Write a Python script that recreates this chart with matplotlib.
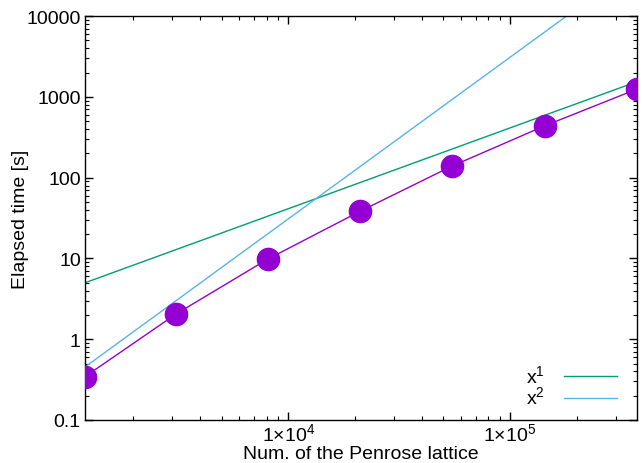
import numpy as np
import matplotlib.pyplot as plt
from matplotlib.ticker import FixedLocator, FixedFormatter, LogLocator, NullFormatter

plt.rcParams['font.family'] = ['Liberation Sans', 'DejaVu Sans']
plt.rcParams['mathtext.fontset'] = 'custom'
plt.rcParams['mathtext.rm'] = 'Liberation Sans'

# measured data
n_sites = [1211, 3115, 8090, 21060, 54700, 143600, 374000]
elapsed = [0.344, 2.05, 9.84, 38.3, 139, 439, 1250]

# reference power laws
c1 = 5.0 / 1211
c2 = 0.453 / 1211**2

fs = 14

fig = plt.figure(figsize=(6.44, 4.64), dpi=100)
ax = fig.add_axes([0.132, 0.0927, 0.857, 0.8703])

xs = np.logspace(np.log10(n_sites[0]), np.log10(n_sites[-1]), 200)
ax.plot(n_sites, elapsed, '-', color='#9400d3', lw=1.0, marker='o',
        ms=16, mfc='#9400d3', mec='#9400d3', zorder=3)
ax.plot(xs, c1 * xs, color='#009e73', lw=1.0, label='x$^1$')
ax.plot(xs, c2 * xs**2, color='#56b4e9', lw=1.0, label='x$^2$')

ax.set_xscale('log')
ax.set_yscale('log')
ax.set_xlim(n_sites[0], n_sites[-1])
ax.set_ylim(0.1, 10000)

ax.xaxis.set_major_locator(FixedLocator([1e4, 1e5]))
ax.xaxis.set_major_formatter(FixedFormatter([r'1$\times$10$^4$', r'1$\times$10$^5$']))
ax.xaxis.set_minor_locator(LogLocator(subs=np.arange(2, 10), numticks=20))
ax.xaxis.set_minor_formatter(NullFormatter())
yt = [0.1, 1, 10, 100, 1000, 10000]
ax.yaxis.set_major_locator(FixedLocator(yt))
ax.yaxis.set_major_formatter(FixedFormatter(['0.1', '1', '10', '100', '1000', '10000']))
ax.yaxis.set_minor_locator(LogLocator(subs=np.arange(2, 10), numticks=20))
ax.yaxis.set_minor_formatter(NullFormatter())

ax.tick_params(which='both', direction='in', top=True, right=True, labelsize=fs)
ax.tick_params(which='major', length=6, width=1)
ax.tick_params(which='minor', length=3, width=0.8)
ax.tick_params(axis='y', pad=3)
ax.tick_params(axis='x', pad=2)
for s in ax.spines.values():
    s.set_linewidth(1.0)

ax.set_xlabel('Num. of the Penrose lattice', fontsize=fs, labelpad=0)
ax.set_ylabel('Elapsed time [s]', fontsize=fs, labelpad=-2)

ax.legend(loc='lower right', frameon=False, markerfirst=False, fontsize=fs,
          handlelength=2.7, labelspacing=-0.05, borderaxespad=0.2,
          handletextpad=1.0, bbox_to_anchor=(0.985, 0.0))

fig.savefig('out.png', dpi=100)
